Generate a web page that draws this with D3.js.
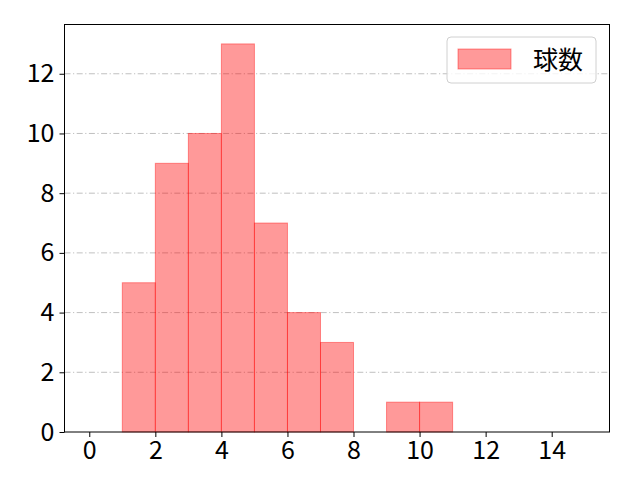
<!DOCTYPE html>
<html>
<head>
<meta charset="utf-8">
<script src="https://cdn.jsdelivr.net/npm/d3@7"></script>
<style>
  body { margin: 0; background: #fff; }
  svg { font-family: "Noto Sans CJK JP", "Noto Sans", sans-serif; }
</style>
</head>
<body>
<div id="vis"></div>
<script>
// histogram bins (width 1) and counts
const BIN_STARTS = [0, 1, 2, 3, 4, 5, 6, 7, 8, 9, 10, 11, 12, 13, 14];
const COUNTS     = [0, 5, 9, 10, 13, 7, 4, 3, 0, 1, 1, 0, 0, 0, 0];
const X_TICKS = [0, 2, 4, 6, 8, 10, 12, 14];
const Y_TICKS = [0, 2, 4, 6, 8, 10, 12];
const SERIES_NAME = "球数";

const FRAME_WIDTH = 640;
const FRAME_HEIGHT = 480;
const MARGINS = {left: 64.5, right: 30.5, top: 24.5, bottom: 48};
const VIS_WIDTH = FRAME_WIDTH - MARGINS.left - MARGINS.right;
const VIS_HEIGHT = FRAME_HEIGHT - MARGINS.top - MARGINS.bottom;

const FRAME = d3.select("#vis")
                .append("svg")
                  .attr("width", FRAME_WIDTH)
                  .attr("height", FRAME_HEIGHT);

// matplotlib-like 5% padding around 0..15 and 0..max
const X_SCALE = d3.scaleLinear().domain([-0.75, 15.75]).range([0, VIS_WIDTH]);
const MAX_Y = d3.max(COUNTS);
const Y_SCALE = d3.scaleLinear().domain([0, MAX_Y * 1.05]).range([VIS_HEIGHT, 0]);

const G = FRAME.append("g")
               .attr("transform", "translate(" + MARGINS.left + "," + MARGINS.top + ")");

// grid lines
G.selectAll(".grid")
  .data(Y_TICKS.filter(d => d > 0))
  .enter()
  .append("line")
    .attr("x1", 0)
    .attr("x2", VIS_WIDTH)
    .attr("y1", d => Y_SCALE(d))
    .attr("y2", d => Y_SCALE(d))
    .attr("stroke", "#b0b0b0")
    .attr("stroke-width", 0.8)
    .attr("stroke-dasharray", "6,2.5,1.2,2.5");

// bars
G.selectAll(".bar")
  .data(BIN_STARTS.map((s, i) => ({x0: s, x1: s + 1, n: COUNTS[i]})).filter(d => d.n > 0))
  .enter()
  .append("rect")
    .attr("x", d => X_SCALE(d.x0))
    .attr("y", d => Y_SCALE(d.n))
    .attr("width", d => X_SCALE(d.x1) - X_SCALE(d.x0))
    .attr("height", d => VIS_HEIGHT - Y_SCALE(d.n))
    .attr("fill", "rgba(255,0,0,0.4)")
    .attr("stroke", "rgba(255,0,0,0.4)")
    .attr("stroke-width", 1);

// axes
const xAxis = G.append("g")
  .attr("transform", "translate(0," + VIS_HEIGHT + ")")
  .call(d3.axisBottom(X_SCALE).tickValues(X_TICKS).tickSize(5).tickPadding(4));
const yAxis = G.append("g")
  .call(d3.axisLeft(Y_SCALE).tickValues(Y_TICKS).tickSize(5).tickPadding(5));

[xAxis, yAxis].forEach(a => {
  a.selectAll("text").attr("font-size", "25px").attr("fill", "#000").attr("font-family", "\"Noto Sans CJK JP\", sans-serif");
  a.selectAll("line").attr("stroke", "#000").attr("stroke-width", 1);
  a.select(".domain").remove();
});

// frame
G.append("rect")
  .attr("width", VIS_WIDTH)
  .attr("height", VIS_HEIGHT)
  .attr("fill", "none")
  .attr("stroke", "#000")
  .attr("stroke-width", 1);

// legend
const LEG = G.append("g").attr("transform", "translate(" + (VIS_WIDTH - 162.5) + ",12.5)");
LEG.append("rect")
  .attr("width", 149).attr("height", 46).attr("rx", 4)
  .attr("fill", "rgba(255,255,255,0.8)")
  .attr("stroke", "#d0d0d0").attr("stroke-width", 1);
LEG.append("rect")
  .attr("x", 11).attr("y", 12).attr("width", 53).attr("height", 20)
  .attr("fill", "rgba(255,0,0,0.4)")
  .attr("stroke", "rgba(255,0,0,0.4)");
LEG.append("text")
  .attr("x", 86).attr("y", 32)
  .attr("font-size", "25px")
  .text(SERIES_NAME);
</script>
</body>
</html>
